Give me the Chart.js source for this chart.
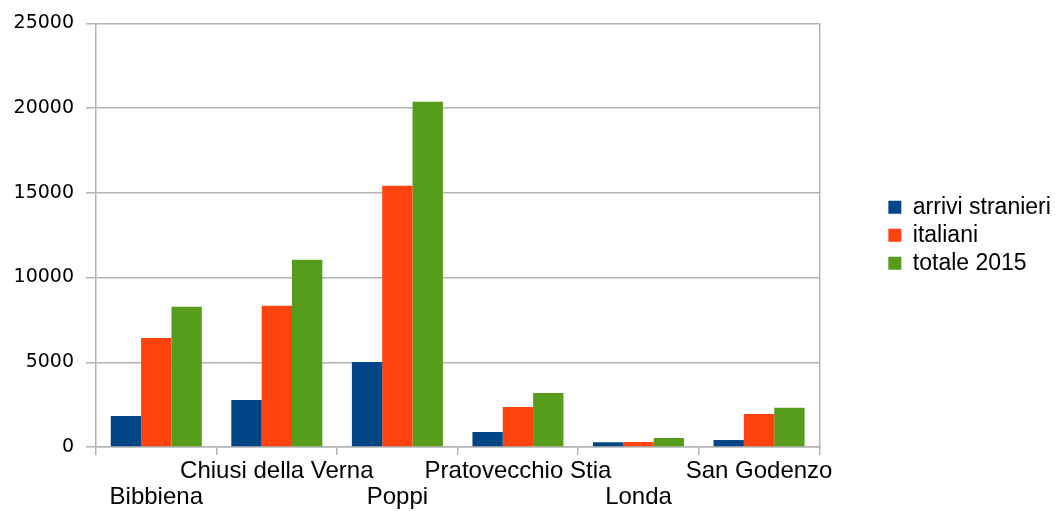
<!DOCTYPE html>
<html>
<head>
<meta charset="utf-8">
<script src="https://cdn.jsdelivr.net/npm/chart.js@4"></script>
<style>
html,body{margin:0;padding:0;background:#fff;}
#wrap{width:1055px;height:511px;position:relative;}
</style>
</head>
<body>
<div id="wrap"><canvas id="c"></canvas></div>
<script>
const categories = ["Bibbiena", "Chiusi della Verna", "Poppi", "Pratovecchio Stia", "Londa", "San Godenzo"];
const arriviStranieri = [1830, 2780, 5020, 890, 280, 410];
const italiani = [6440, 8330, 15420, 2360, 290, 1950];
const totale2015 = [8270, 11050, 20370, 3190, 530, 2310];
const yTicks = [0, 5000, 10000, 15000, 20000, 25000];
const seriesNames = ["arrivi stranieri", "italiani", "totale 2015"];

const grid = '#b3b3b3';
const labelFont = {family: "'Liberation Sans', Arial, sans-serif", size: 24, lineHeight: 1.09};
const legendFont = {family: "'Liberation Sans', Arial, sans-serif", size: 23, lineHeight: 1.1};

new Chart(document.getElementById('c'), {
  type: 'bar',
  data: {
    labels: categories,
    datasets: [
      {label: seriesNames[0], data: arriviStranieri, backgroundColor: '#004586'},
      {label: seriesNames[1], data: italiani, backgroundColor: '#ff420e'},
      {label: seriesNames[2], data: totale2015, backgroundColor: '#579d1c'}
    ]
  },
  options: {
    responsive: true,
    maintainAspectRatio: false,
    animation: false,
    datasets: {bar: {categoryPercentage: 0.755, barPercentage: 1.0}},
    layout: {padding: {top: 23, left: 0, right: -5, bottom: 0}},
    plugins: {
      tooltip: {enabled: false},
      legend: {
        position: 'right',
        fullSize: false,
        labels: {
          boxWidth: 13, boxHeight: 13, padding: 5,
          color: '#000', font: legendFont
        }
      }
    },
    scales: {
      x: {
        grid: {offset: true, drawOnChartArea: false, drawTicks: true, tickLength: 8, color: grid, lineWidth: 1.5},
        border: {display: true, color: grid, width: 1.5},
        ticks: {
          color: '#000', font: labelFont, maxRotation: 0, autoSkip: false, padding: 3,
          callback: function(v, i) { return i % 2 === 0 ? ['', categories[i]] : [categories[i], '']; }
        },
        afterFit: function(s) { s.height = 64; }
      },
      y: {
        min: 0, max: 25000,
        afterBuildTicks: function(s) { s.ticks = yTicks.map(v => ({value: v})); },
        grid: {color: grid, tickLength: 10, lineWidth: 1.5},
        border: {display: true, color: grid, width: 1.5},
        ticks: {color: '#000', font: {family: "'DejaVu Sans', sans-serif", size: 19}, padding: 12,
          callback: function(v) { return String(v); }},
        afterFit: function(s) { s.width = 96; }
      },
      y2: {
        position: 'right',
        min: 0, max: 25000,
        grid: {drawOnChartArea: false, drawTicks: false},
        border: {display: true, color: grid, width: 1.5},
        ticks: {display: false},
        afterFit: function(s) { s.width = 64; }
      }
    }
  }
});
</script>
</body>
</html>
